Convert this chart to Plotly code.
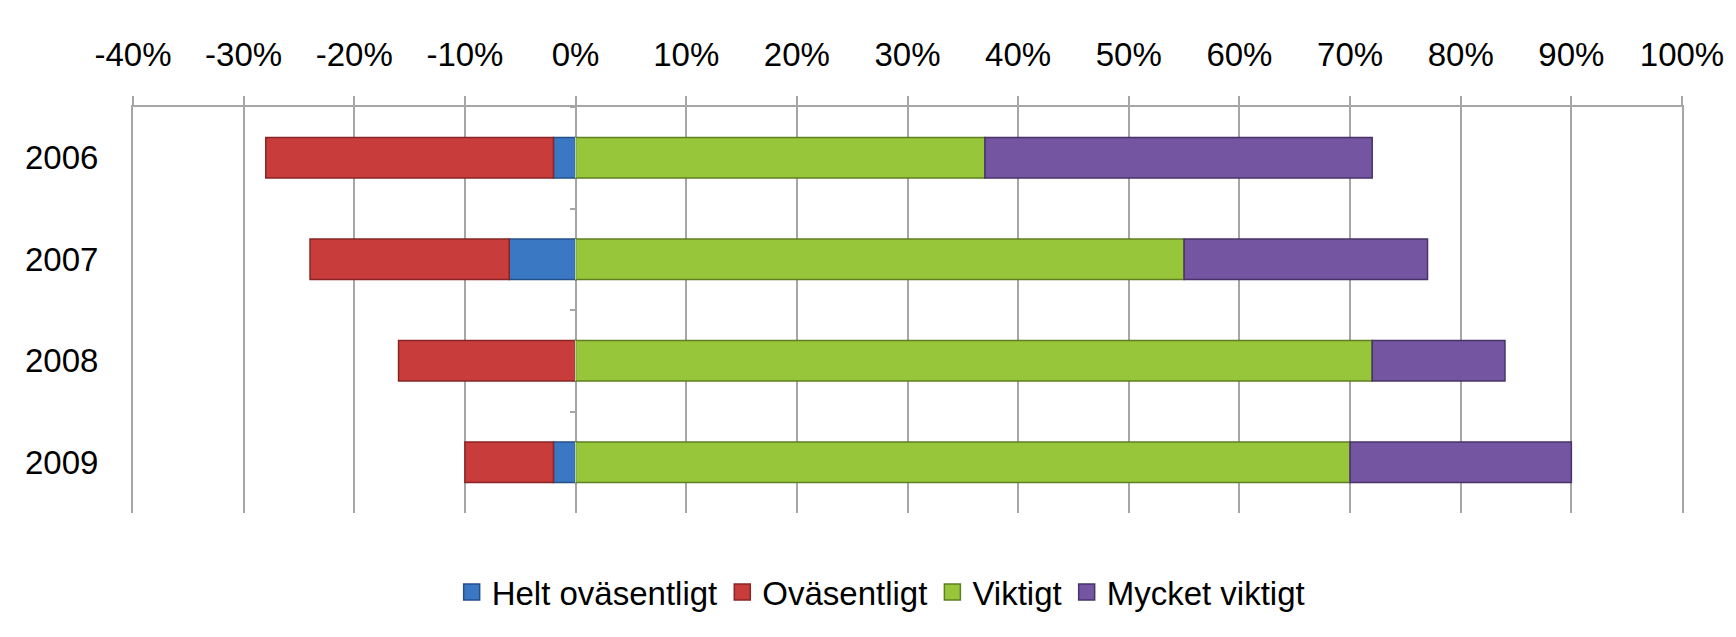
import plotly.graph_objects as go

years = ["2006", "2007", "2008", "2009"]
helt_ovasentligt = [-0.02, -0.06, 0.0, -0.02]
ovasentligt = [-0.26, -0.18, -0.16, -0.08]
viktigt = [0.37, 0.55, 0.72, 0.70]
mycket_viktigt = [0.35, 0.22, 0.12, 0.20]

x_ticks = [-0.4, -0.3, -0.2, -0.1, 0, 0.1, 0.2, 0.3, 0.4, 0.5, 0.6, 0.7, 0.8, 0.9, 1.0]
x_ticklabels = ["-40%", "-30%", "-20%", "-10%", "0%", "10%", "20%", "30%", "40%",
                "50%", "60%", "70%", "80%", "90%", "100%"]

series = [
    ("Helt oväsentligt", helt_ovasentligt, "#3A78C4", "#24508A"),
    ("Oväsentligt", ovasentligt, "#C83C3C", "#8A2424"),
    ("Viktigt", viktigt, "#98C63A", "#5F7F22"),
    ("Mycket viktigt", mycket_viktigt, "#7455A2", "#47336A"),
]

fig = go.Figure()
for name, vals, col, edge in series:
    fig.add_trace(go.Bar(
        y=years, x=vals, name=name, orientation="h", legendgroup=name,
        showlegend=False,
        marker=dict(color=col, line=dict(color=edge, width=1.5)),
    ))
    # legend-only entry with a larger square symbol
    fig.add_trace(go.Scatter(
        x=[None], y=[None], mode="markers", name=name, legendgroup=name,
        marker=dict(symbol="square", size=20, color=col,
                    line=dict(color=edge, width=1.5)),
    ))

# invisible trace on secondary y axis to draw boundary ticks at 0%
fig.add_trace(go.Bar(y=years, x=[0, 0, 0, 0], orientation="h", yaxis="y2",
                     showlegend=False, hoverinfo="skip",
                     marker=dict(color="rgba(0,0,0,0)")))

font_family = "Liberation Sans, Arial, sans-serif"

fig.update_layout(
    width=1736, height=637,
    barmode="relative",
    bargap=0.6,
    paper_bgcolor="white", plot_bgcolor="white",
    margin=dict(l=133, r=47, t=107, b=124),
    font=dict(family=font_family, size=33, color="black"),
    xaxis=dict(
        side="top", range=[-0.4, 1.0], tickvals=x_ticks, ticktext=x_ticklabels,
        showgrid=True, gridcolor="#A6A6A6", gridwidth=2,
        showline=True, linecolor="#A6A6A6", linewidth=2,
        ticks="outside", ticklen=9, tickcolor="#A6A6A6", tickwidth=2,
        zeroline=False, ticklabelstandoff=17,
        tickfont=dict(size=33),
    ),
    yaxis=dict(
        categoryorder="array", categoryarray=years, autorange="reversed",
        showgrid=False, showline=True, mirror=True, linecolor="#A6A6A6",
        linewidth=2, ticks="", zeroline=False,
        ticklabelstandoff=26, tickfont=dict(size=33),
    ),
    yaxis2=dict(
        overlaying="y", anchor="free", position=0.4 / 1.4, side="left",
        categoryorder="array", categoryarray=years, autorange="reversed",
        showticklabels=False, showgrid=False, showline=False,
        ticks="outside", tickson="boundaries", ticklen=6, tickwidth=2,
        tickcolor="#A6A6A6",
    ),
    legend=dict(
        orientation="h", x=0.483, xanchor="center", y=-0.195, yanchor="middle",
        font=dict(size=33), itemwidth=30, traceorder="normal",
    ),
)

fig.write_html("out.html")
